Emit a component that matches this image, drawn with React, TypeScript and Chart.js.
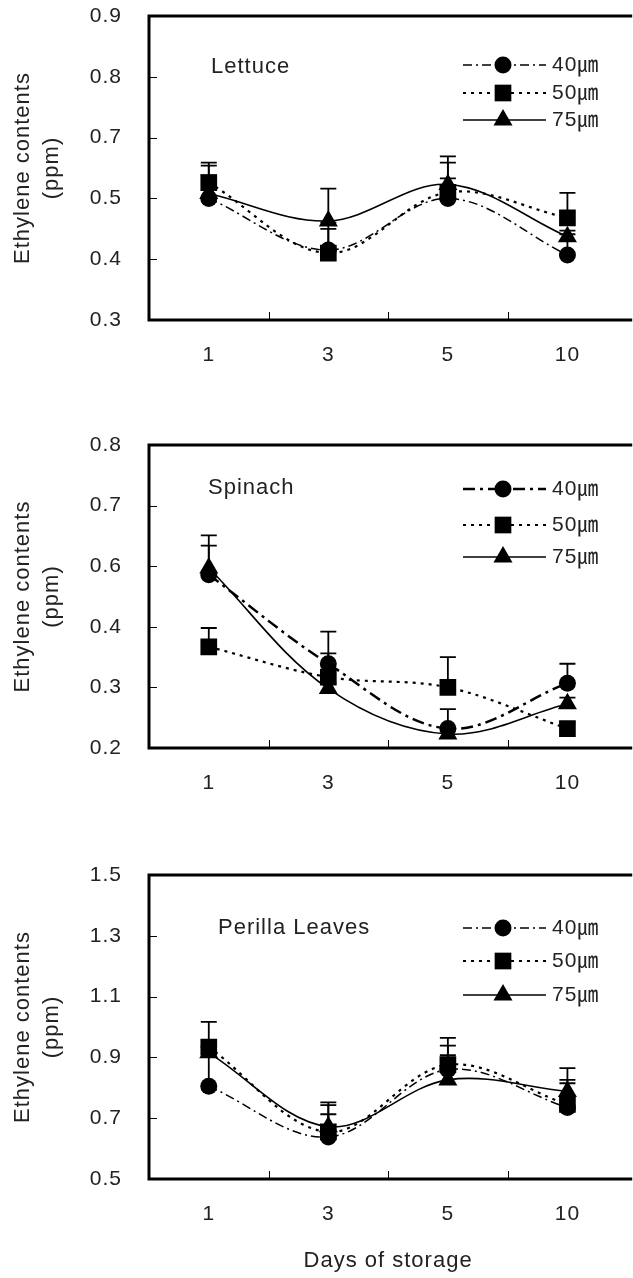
import React, { useEffect, useRef } from 'react';
import { Chart, registerables } from 'chart.js';
Chart.register(...registerables);

// ---------- data ----------
const days = ['1', '3', '5', '10'];
const seriesLabels = ['40㎛', '50㎛', '75㎛'];

// Lettuce
const lettuceTickLabels = ['0.3', '0.4', '0.5', '0.7', '0.8', '0.9'];
const lettuce40 = [0.5, 0.415, 0.5, 0.407];
const lettuce50 = [0.526, 0.41, 0.51, 0.468];
const lettuce75 = [0.508, 0.463, 0.523, 0.437];
const lettuce40Err = [0.054, 0.035, 0.033, 0.034];
const lettuce50Err = [0.012, 0.05, 0.049, 0.041];
const lettuce75Err = [0.051, 0.053, 0.046, 0.01];

// Spinach
const spinachTickLabels = ['0.2', '0.3', '0.4', '0.6', '0.7', '0.8'];
const spinach40 = [0.486, 0.339, 0.232, 0.307];
const spinach50 = [0.367, 0.317, 0.3, 0.232];
const spinach75 = [0.497, 0.298, 0.223, 0.273];
const spinach40Err = [0.048, 0.053, 0.032, 0.032];
const spinach50Err = [0.031, 0.039, 0.05, 0.01];
const spinach75Err = [0.054, 0.01, 0.01, 0.01];

// Perilla leaves
const perillaTickLabels = ['0.5', '0.7', '0.9', '1.1', '1.3', '1.5'];
const perilla40 = [0.805, 0.638, 0.86, 0.735];
const perilla50 = [0.934, 0.655, 0.876, 0.745];
const perilla75 = [0.915, 0.672, 0.826, 0.788];
const perilla40Err = [0.13, 0.105, 0.047, 0.08];
const perilla50Err = [0.083, 0.097, 0.088, 0.081];
const perilla75Err = [0.02, 0.041, 0.113, 0.077];

// ---------- styles ----------
const FONT = "'Liberation Sans', 'Noto Sans CJK KR', sans-serif";
const TEXT = '#222';
const TICK_SIZE = 21;
const TITLE_SIZE = 22;

function drawMarker(ctx: CanvasRenderingContext2D, style: string, x: number, y: number, r: number) {
  ctx.beginPath();
  if (style === 'circle') {
    ctx.arc(x, y, r, 0, Math.PI * 2);
  } else if (style === 'rect') {
    const s = r * Math.SQRT1_2;
    ctx.rect(x - s, y - s, 2 * s, 2 * s);
  } else {
    let a = 0;
    ctx.moveTo(x + Math.sin(a) * r, y - Math.cos(a) * r);
    a += (2 * Math.PI) / 3;
    ctx.lineTo(x + Math.sin(a) * r, y - Math.cos(a) * r);
    a += (2 * Math.PI) / 3;
    ctx.lineTo(x + Math.sin(a) * r, y - Math.cos(a) * r);
    ctx.closePath();
  }
  ctx.fillStyle = '#000';
  ctx.fill();
}

const panelPlugin = {
  id: 'panel',
  beforeDraw(chart: any) {
    chart.ctx.letterSpacing = '1px';
  },
  beforeDatasetsDraw(chart: any) {
    const ctx = chart.ctx;
    const ys = chart.scales.y;
    ctx.save();
    ctx.strokeStyle = '#000';
    ctx.lineWidth = 1.8;
    ctx.setLineDash([]);
    chart.data.datasets.forEach((ds: any, i: number) => {
      const meta = chart.getDatasetMeta(i);
      meta.data.forEach((pt: any, j: number) => {
        const x = pt.x;
        const y0 = pt.y;
        const y1 = ys.getPixelForValue(ds.data[j] + ds.errors[j]);
        ctx.beginPath();
        ctx.moveTo(x, y0);
        ctx.lineTo(x, y1);
        ctx.moveTo(x - 8, y1);
        ctx.lineTo(x + 8, y1);
        ctx.stroke();
      });
    });
    ctx.restore();
  },
  afterDraw(chart: any) {
    const o = chart.options.plugins.panel;
    const ctx = chart.ctx;
    const { left, top, right, bottom } = chart.chartArea;
    const xs = chart.scales.x;
    const ys = chart.scales.y;
    ctx.save();
    ctx.letterSpacing = '1px';
    // frame
    ctx.strokeStyle = '#000';
    ctx.lineWidth = 3;
    ctx.lineJoin = 'miter';
    ctx.setLineDash([]);
    ctx.beginPath();
    ctx.moveTo(right + 5, top);
    ctx.lineTo(left, top);
    ctx.lineTo(left, bottom);
    ctx.lineTo(right + 5, bottom);
    ctx.stroke();
    // inward ticks
    ctx.lineWidth = 1;
    ctx.beginPath();
    ys.ticks.forEach((t: any) => {
      const y = Math.round(ys.getPixelForValue(t.value)) + 0.5;
      ctx.moveTo(left, y);
      ctx.lineTo(left + 8, y);
    });
    for (let i = 0; i < days.length - 1; i++) {
      const x = Math.round((xs.getPixelForTick(i) + xs.getPixelForTick(i + 1)) / 2) + 0.5;
      ctx.moveTo(x, bottom);
      ctx.lineTo(x, bottom - 8);
    }
    ctx.stroke();
    // panel title
    ctx.fillStyle = TEXT;
    ctx.font = `${TITLE_SIZE}px ${FONT}`;
    ctx.textBaseline = 'middle';
    ctx.textAlign = 'left';
    ctx.fillText(o.title, o.titleX, top + o.titleDy);
    // legend
    chart.data.datasets.forEach((ds: any, i: number) => {
      const y = top + o.legendDy[i];
      ctx.save();
      ctx.strokeStyle = '#000';
      ctx.lineWidth = ds.borderWidth;
      ctx.setLineDash(ds.borderDash || []);
      ctx.beginPath();
      ctx.moveTo(o.legendX0, y);
      ctx.lineTo(o.legendX1, y);
      ctx.stroke();
      ctx.setLineDash([]);
      drawMarker(ctx, ds.pointStyle, o.legendMX, y, ds.pointRadius);
      ctx.fillStyle = TEXT;
      ctx.font = `${TICK_SIZE}px ${FONT}`;
      ctx.textBaseline = 'middle';
      ctx.textAlign = 'left';
      ctx.fillText(ds.label, o.legendTX, y);
      ctx.restore();
    });
    ctx.restore();
  },
};

type PanelCfg = {
  title: string;
  tickLabels: string[];
  min: number;
  max: number;
  step: number;
  values: number[][];
  errors: number[][];
  dash40: number[];
  width40: number;
  canvasTop: number;
  canvasHeight: number;
  areaTop: number;
  xHeight: number;
  xTitle: boolean;
  titleX: number;
  titleDy: number;
  legendDy: number[];
};

const panels: PanelCfg[] = [
  {
    title: 'Lettuce', tickLabels: lettuceTickLabels, min: 0.3, max: 0.8, step: 0.1,
    values: [lettuce40, lettuce50, lettuce75], errors: [lettuce40Err, lettuce50Err, lettuce75Err],
    dash40: [9, 4, 2, 4], width40: 1.5,
    canvasTop: 0, canvasHeight: 405, areaTop: 16, xHeight: 85, xTitle: false,
    titleX: 211, titleDy: 51, legendDy: [49, 77, 104],
  },
  {
    title: 'Spinach', tickLabels: spinachTickLabels, min: 0.2, max: 0.7, step: 0.1,
    values: [spinach40, spinach50, spinach75], errors: [spinach40Err, spinach50Err, spinach75Err],
    dash40: [12, 5, 3, 5], width40: 2.5,
    canvasTop: 405, canvasHeight: 425, areaTop: 40, xHeight: 82, xTitle: false,
    titleX: 208, titleDy: 43, legendDy: [44, 80, 112],
  },
  {
    title: 'Perilla Leaves', tickLabels: perillaTickLabels, min: 0.5, max: 1.5, step: 0.2,
    values: [perilla40, perilla50, perilla75], errors: [perilla40Err, perilla50Err, perilla75Err],
    dash40: [9, 4, 2, 4], width40: 1.5,
    canvasTop: 830, canvasHeight: 448, areaTop: 45, xHeight: 99, xTitle: true,
    titleX: 218, titleDy: 53, legendDy: [53, 86, 120],
  },
];

const CANVAS_W = 639;

function Panel({ cfg }: { cfg: PanelCfg }) {
  const ref = useRef<HTMLCanvasElement>(null);
  useEffect(() => {
    const styles = [
      { dash: cfg.dash40, width: cfg.width40, point: 'circle', r: 8.5, order: 3 },
      { dash: [3, 5], width: 2.2, point: 'rect', r: 11.8, order: 2 },
      { dash: [], width: 1.6, point: 'triangle', r: 11, order: 1 },
    ];
    const datasets = cfg.values.map((vals, i) => ({
      label: seriesLabels[i],
      data: vals,
      errors: cfg.errors[i],
      borderColor: '#000',
      backgroundColor: '#000',
      borderWidth: styles[i].width,
      borderDash: styles[i].dash,
      pointStyle: styles[i].point,
      pointRadius: styles[i].r,
      pointBackgroundColor: '#000',
      pointBorderColor: '#000',
      pointBorderWidth: 0,
      tension: 0.35,
      fill: false,
      order: styles[i].order,
    }));
    const chart = new Chart(ref.current as HTMLCanvasElement, {
      type: 'line',
      data: { labels: days, datasets: datasets as any },
      options: {
        responsive: false,
        animation: false,
        events: [],
        layout: { padding: { top: cfg.areaTop, left: 0, right: 0, bottom: 0 } },
        plugins: {
          legend: { display: false },
          tooltip: { enabled: false },
          panel: {
            title: cfg.title, titleX: cfg.titleX, titleDy: cfg.titleDy, legendDy: cfg.legendDy,
            legendX0: 463, legendX1: 546, legendMX: 503, legendTX: 552,
          },
        } as any,
        scales: {
          x: {
            type: 'category',
            offset: true,
            grid: { display: false, drawTicks: false },
            border: { display: false },
            ticks: { font: { family: FONT, size: TICK_SIZE }, color: TEXT, padding: 23, maxRotation: 0, autoSkip: false },
            title: {
              display: cfg.xTitle,
              text: 'Days of storage',
              font: { family: FONT, size: TITLE_SIZE },
              color: TEXT,
              padding: { top: 0, bottom: 4 },
            },
            afterFit: (s: any) => {
              s.height = cfg.xHeight;
              s.paddingLeft = 0;
              s.paddingRight = 0;
            },
          },
          y: {
            type: 'linear',
            min: cfg.min,
            max: cfg.max,
            grid: { display: false, drawTicks: false },
            border: { display: false },
            ticks: {
              stepSize: cfg.step,
              font: { family: FONT, size: TICK_SIZE },
              color: TEXT,
              padding: 27,
              callback: (_v: any, i: number) => cfg.tickLabels[i],
            },
            title: {
              display: true,
              text: ['Ethylene contents', '(ppm)'],
              font: { family: FONT, size: TITLE_SIZE, lineHeight: 1.32 },
              color: TEXT,
              padding: { top: 8.5, bottom: 0 },
            },
            afterFit: (s: any) => {
              s.width = 149;
              s.paddingTop = 0;
              s.paddingBottom = 0;
            },
          },
        },
      },
      plugins: [panelPlugin as any],
    });
    return () => chart.destroy();
  }, [cfg]);
  return (
    <canvas
      ref={ref}
      width={CANVAS_W}
      height={cfg.canvasHeight}
      style={{ position: 'absolute', left: 0, top: cfg.canvasTop, width: CANVAS_W, height: cfg.canvasHeight, display: 'block' }}
    />
  );
}

export default function App() {
  return (
    <div style={{ position: 'absolute', left: 0, top: 0, width: 633, height: 1278, overflow: 'hidden', background: '#fff' }}>
      {panels.map((p) => (
        <Panel key={p.title} cfg={p} />
      ))}
    </div>
  );
}
